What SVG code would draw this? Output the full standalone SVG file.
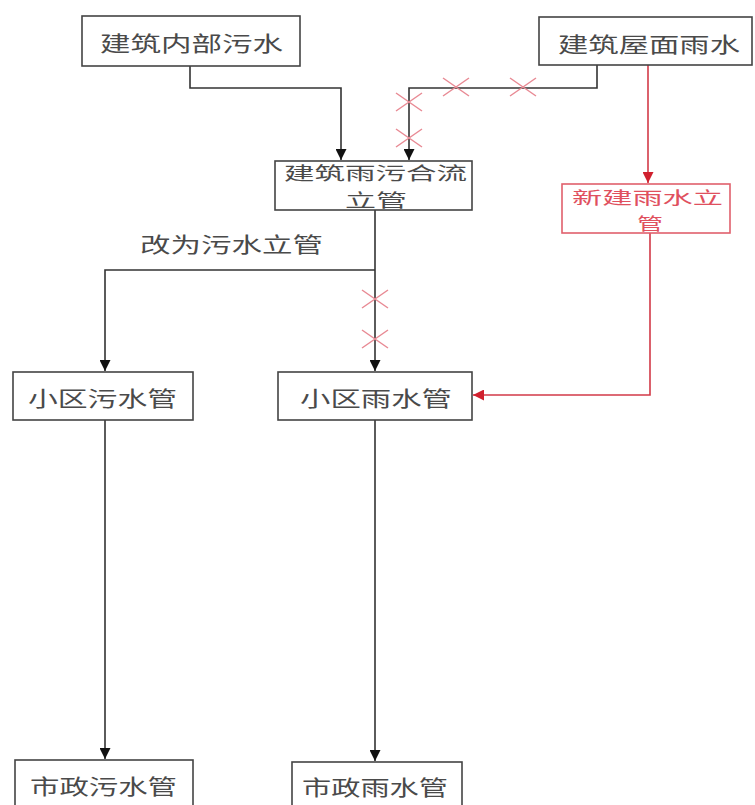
<svg xmlns="http://www.w3.org/2000/svg" width="755" height="805" viewBox="0 0 755 805">
<defs>
<style>
.box{fill:#fff;stroke:#444;stroke-width:1.6}
.rbox{fill:#fff;stroke:#e0606c;stroke-width:1.6}
.t{font-family:"Noto Sans CJK SC","Noto Sans CJK JP",sans-serif;font-size:21px;fill:#4a4a4a;text-anchor:start;dominant-baseline:central}
.s{font-size:18px}
.rt{fill:#e0505e;font-size:17px}
.ln{fill:none;stroke:#333;stroke-width:1.6}
.rln{fill:none;stroke:#d23a48;stroke-width:1.6}
.x{stroke:#e88a94;stroke-width:1.5;fill:none}
</style>
<marker id="ab" viewBox="0 0 10 10" refX="10" refY="5" markerWidth="11" markerHeight="11" markerUnits="userSpaceOnUse" orient="auto"><path d="M0,0 L10,5 L0,10 z" fill="#111"/></marker>
<marker id="ar" viewBox="0 0 10 10" refX="10" refY="5" markerWidth="11" markerHeight="11" markerUnits="userSpaceOnUse" orient="auto"><path d="M0,0 L10,5 L0,10 z" fill="#d0202e"/></marker>
</defs>
<rect width="755" height="805" fill="#fff"/>
<g id="connectors">
<path class="ln" d="M190,66 V88 H341 V160" marker-end="url(#ab)"/>
<path class="ln" d="M597,65 V88 H409 V160" marker-end="url(#ab)"/>
<path class="rln" d="M648,65 V183" marker-end="url(#ar)"/>
<path class="ln" d="M375,210 V371" marker-end="url(#ab)"/>
<path class="ln" d="M375,270 H105 V371" marker-end="url(#ab)"/>
<path class="rln" d="M650,233 V395 H473" marker-end="url(#ar)"/>
<path class="ln" d="M105,420 V759" marker-end="url(#ab)"/>
<path class="ln" d="M375,420 V761" marker-end="url(#ab)"/>
<g class="x">
<path d="M443,78 L469,96 M443,96 L469,78"/>
<path d="M510,78 L536,96 M510,96 L536,78"/>
<path d="M396,93 L422,111 M396,111 L422,93"/>
<path d="M396,129 L422,147 M396,147 L422,129"/>
<path d="M362,290 L388,308 M362,308 L388,290"/>
<path d="M362,330 L388,348 M362,348 L388,330"/>
</g>
<text class="t" x="140" y="243" textLength="183" lengthAdjust="spacingAndGlyphs">改为污水立管</text>
</g>
<g id="n1"><rect class="box" x="82" y="16" width="218" height="50"/><text class="t" x="100" y="42" textLength="183" lengthAdjust="spacingAndGlyphs">建筑内部污水</text></g>
<g id="n2"><rect class="box" x="539" y="17" width="213" height="48"/><text class="t" x="558" y="43" textLength="182" lengthAdjust="spacingAndGlyphs">建筑屋面雨水</text></g>
<g id="n3"><rect class="box" x="275" y="161" width="197" height="49"/><text class="t s" x="284" y="172" textLength="183" lengthAdjust="spacingAndGlyphs">建筑雨污合流</text><text class="t s" x="345" y="199" textLength="62" lengthAdjust="spacingAndGlyphs">立管</text></g>
<g id="n4"><rect class="rbox" x="562" y="184" width="168" height="49"/><text class="t rt" x="572" y="196" textLength="151" lengthAdjust="spacingAndGlyphs">新建雨水立</text><text class="t rt" x="637" y="222" textLength="26" lengthAdjust="spacingAndGlyphs">管</text></g>
<g id="n5"><rect class="box" x="13" y="372" width="180" height="48"/><text class="t" x="28" y="397" textLength="149" lengthAdjust="spacingAndGlyphs">小区污水管</text></g>
<g id="n6"><rect class="box" x="278" y="372" width="194" height="48"/><text class="t" x="300" y="397" textLength="152" lengthAdjust="spacingAndGlyphs">小区雨水管</text></g>
<g id="n7"><rect class="box" x="15" y="760" width="178" height="60"/><text class="t" x="30" y="785" textLength="147" lengthAdjust="spacingAndGlyphs">市政污水管</text></g>
<g id="n8"><rect class="box" x="292" y="762" width="170" height="60"/><text class="t" x="302" y="786" textLength="146" lengthAdjust="spacingAndGlyphs">市政雨水管</text></g>
</svg>
